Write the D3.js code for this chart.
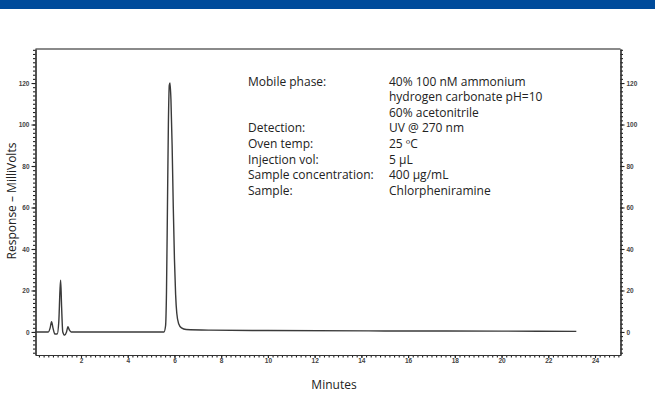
<!DOCTYPE html>
<html><head><meta charset="utf-8">
<script src="https://cdn.jsdelivr.net/npm/d3@7"></script>
<style>body{margin:0;background:#fff}svg{display:block}</style>
</head><body>
<svg id="c" width="655" height="402"></svg>
<script>
// Retention time (min) and response (mV)
const times = [0.05,0.6,0.68,0.74,0.80,0.88,0.98,1.05,1.10,1.13,1.17,1.22,1.30,1.38,1.44,1.50,1.58,5.55,5.62,5.66,5.70,5.74,5.78,5.81,5.85,5.90,5.95,6.00,6.05,6.10,6.18,6.30,6.50,7.5,10,15,20,23.2];
const response = [0,0,2,5,2,-1,-1,5,20,25,12,0,-1.5,0,2.5,1,0,0,3,20,60,100,119,120,112,90,60,35,18,9,4,2,1.2,0.9,0.7,0.5,0.4,0.3];
const xTicks = [2,4,6,8,10,12,14,16,18,20,22,24];
const yTicks = [0,20,40,60,80,100,120];
const infoLabels = ["Mobile phase:","","","Detection:","Oven temp:","Injection vol:","Sample concentration:","Sample:"];
const infoValues = ["40% 100 nM ammonium","hydrogen carbonate pH=10","60% acetonitrile","UV @ 270 nm","25 ºC","5 µL","400 µg/mL","Chlorpheniramine"];

const svg = d3.select("#c");
svg.append("rect").attr("x",0).attr("y",0).attr("width",655).attr("height",9).attr("fill","#004b9b");

const L=35.5, R=620.5, T=49, B=355;
const x = d3.scaleLinear().domain([(L-34.27)/23.364,(R-34.27)/23.364]).range([L,R]);
const y = d3.scaleLinear().domain([-11.1,136.4]).range([B,T]);

svg.append("line").attr("x1",L).attr("x2",R).attr("y1",T).attr("y2",T).attr("stroke","#8a8a8a").attr("stroke-width",2);

const tickFont = "bold 6.5px 'Liberation Sans', Arial, sans-serif";
function styleAxis(g){
  g.select(".domain").attr("stroke","#333").attr("stroke-width",1.2);
  g.selectAll(".tick line").attr("stroke","#222").attr("stroke-width",1.1);
  g.selectAll(".tick text").style("font",tickFont).attr("fill","#444");
}
const yMinor = d3.range(-10,137,2);
const xMinor = d3.range(0.2,25.05,0.2);

svg.append("g").attr("transform",`translate(${L},0)`)
  .call(d3.axisLeft(y).tickValues(yMinor).tickSize(2.5).tickFormat("").tickSizeOuter(0)).call(styleAxis);
svg.append("g").attr("transform",`translate(${L},0)`)
  .call(d3.axisLeft(y).tickValues(yTicks).tickSize(4).tickPadding(2).tickFormat(d3.format("d")).tickSizeOuter(0)).call(styleAxis);
svg.append("g").attr("transform",`translate(${R},0)`)
  .call(d3.axisRight(y).tickValues(yMinor).tickSize(2.5).tickFormat("").tickSizeOuter(0)).call(styleAxis);
svg.append("g").attr("transform",`translate(${R},0)`)
  .call(d3.axisRight(y).tickValues(yTicks).tickSize(4).tickPadding(2).tickFormat(d3.format("d")).tickSizeOuter(0)).call(styleAxis);
svg.append("g").attr("transform",`translate(0,${B})`)
  .call(d3.axisBottom(x).tickValues(xMinor).tickSize(2.5).tickFormat("").tickSizeOuter(0)).call(styleAxis);
svg.append("g").attr("transform",`translate(0,${B})`)
  .call(d3.axisBottom(x).tickValues(xTicks).tickSize(3).tickPadding(0.5).tickFormat(d3.format("d")).tickSizeOuter(0)).call(styleAxis);

const pts = times.map((t,i)=>[t,response[i]]);
svg.append("path").datum(pts)
  .attr("d", d3.line().x(d=>x(d[0])).y(d=>y(d[1])).curve(d3.curveMonotoneX))
  .attr("fill","none").attr("stroke","#3a3a3a").attr("stroke-width",1.4);

const txtFont = "'Open Sans', sans-serif";
svg.append("text").attr("transform","translate(16,201) rotate(-90)").attr("text-anchor","middle")
  .style("font-family",txtFont).style("font-size","12px").attr("fill","#222").text("Response – MilliVolts");
svg.append("text").attr("x",334).attr("y",389).attr("text-anchor","middle")
  .style("font-family",txtFont).style("font-size","12px").attr("fill","#222").text("Minutes");

const info = svg.append("g").style("font-family",txtFont).style("font-size","12px").attr("fill","#222");
infoLabels.forEach((s,i)=>{ if(s) info.append("text").attr("x",248).attr("y",85.5+i*15.6).text(s); });
infoValues.forEach((s,i)=>{ info.append("text").attr("x",389).attr("y",85.5+i*15.6).text(s); });
</script>
</body></html>
